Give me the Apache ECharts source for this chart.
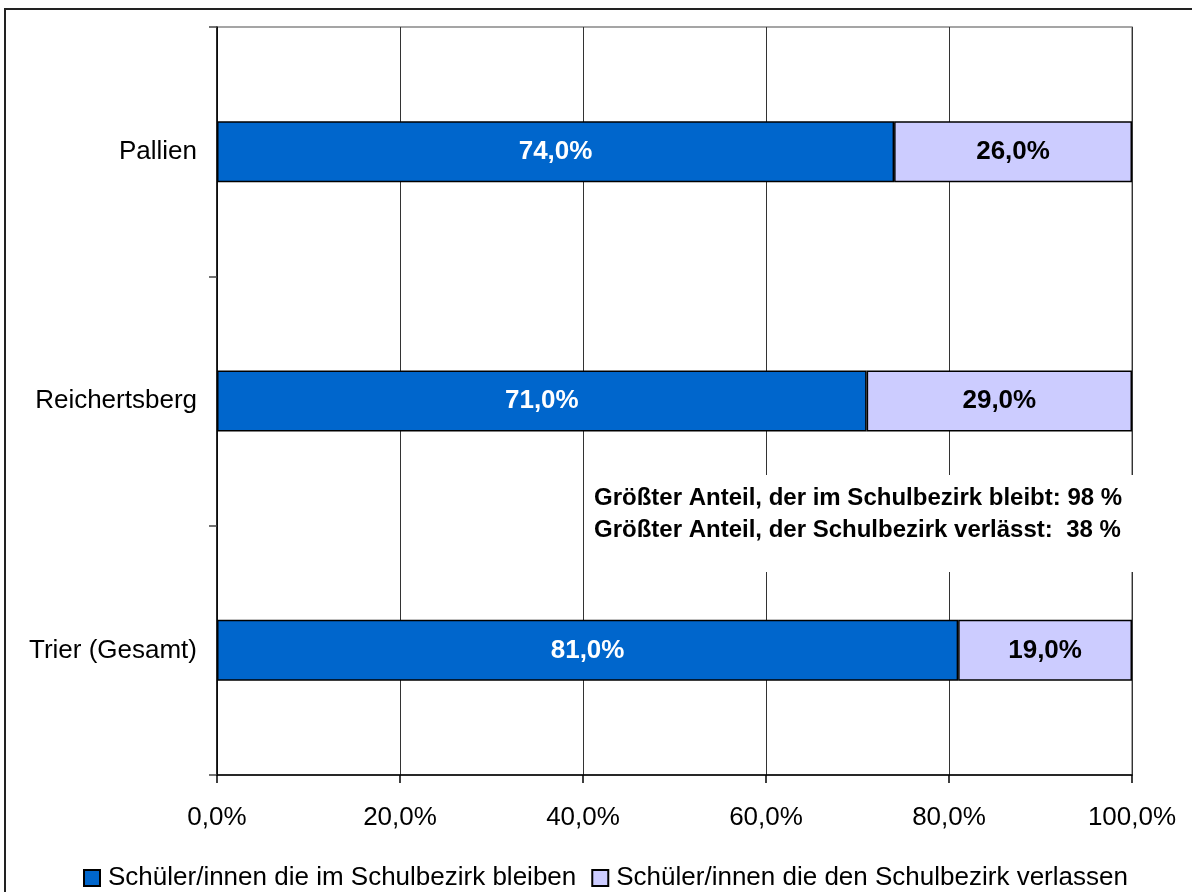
<!DOCTYPE html>
<html>
<head>
<meta charset="utf-8">
<script src="https://cdn.jsdelivr.net/npm/echarts@6/dist/echarts.min.js"></script>
<style>
  html, body { margin: 0; padding: 0; background: #fff; }
  #main { width: 1192px; height: 892px; }
</style>
</head>
<body>
<div id="main"></div>
<script>
// Kategorien von unten nach oben
var categories = ['Trier (Gesamt)', 'Reichertsberg', 'Pallien'];
var bleiben = [81.0, 71.0, 74.0];
var verlassen = [19.0, 29.0, 26.0];
var seriesNames = ['Schüler/innen die im Schulbezirk bleiben', 'Schüler/innen die den Schulbezirk verlassen'];
var xTicks = [0, 20, 40, 60, 80, 100];
var notes = ['Größter Anteil, der im Schulbezirk bleibt: 98 %', 'Größter Anteil, der Schulbezirk verlässt:  38 %'];

var fontName = '"Liberation Sans", Arial, sans-serif';

function pct(v) {
    return Number(v).toFixed(1).replace('.', ',') + '%';
}

var myChart = echarts.init(document.getElementById('main'));

var option = {
    animation: false,
    textStyle: { fontFamily: fontName },
    grid: {
        left: 217,
        right: 60,
        top: 27,
        bottom: 117,
        show: true,
        borderColor: '#888',
        borderWidth: 1.5,
        backgroundColor: 'transparent'
    },
    //图例
    legend: {
        data: seriesNames,
        left: 78,
        top: 860,
        itemWidth: 16,
        itemHeight: 16,
        itemGap: 15,
        textStyle: { fontSize: 26, color: '#000', fontFamily: fontName, padding: [0, 0, 0, 3] },
        icon: 'rect'
    },
    xAxis: {
        type: 'value',
        min: xTicks[0],
        max: xTicks[xTicks.length - 1],
        interval: 20,
        axisLine: { show: true, lineStyle: { color: '#000', width: 1.5 } },
        axisTick: { show: true, length: 8, lineStyle: { color: '#000', width: 1.5 } },
        axisLabel: {
            fontSize: 26, color: '#000', margin: 30,
            formatter: function (v) { return pct(v); }
        },
        splitLine: { show: true, lineStyle: { color: '#333', width: 1 } }
    },
    yAxis: {
        type: 'category',
        data: categories,
        axisLine: { show: true, lineStyle: { color: '#000', width: 1.5 } },
        axisTick: { show: true, length: 8, lineStyle: { color: '#444', width: 1.5 } },
        axisLabel: { fontSize: 26, color: '#000', margin: 20 },
        splitLine: { show: false }
    },
    series: [
        {
            name: seriesNames[0],
            type: 'bar',
            stack: 'total',
            barWidth: 61,
            data: bleiben,
            itemStyle: { color: '#0066CC', borderColor: '#000', borderWidth: 1.5 },
            label: {
                show: true, position: 'inside', color: '#fff',
                fontSize: 26, fontWeight: 'bold',
                formatter: function (p) { return pct(p.value); }
            }
        },
        {
            name: seriesNames[1],
            type: 'bar',
            stack: 'total',
            barWidth: 61,
            data: verlassen,
            itemStyle: { color: '#CCCCFF', borderColor: '#000', borderWidth: 1.5 },
            label: {
                show: true, position: 'inside', color: '#000',
                fontSize: 26, fontWeight: 'bold',
                formatter: function (p) { return pct(p.value); }
            }
        }
    ],
    graphic: [
        {
            type: 'rect', z: 100,
            shape: { x: 5, y: 9, width: 1200, height: 900 },
            style: { fill: 'none', stroke: '#222', lineWidth: 2 }
        },
        {
            type: 'rect', z: 100,
            shape: { x: 585, y: 475, width: 550, height: 97 },
            style: { fill: '#fff' }
        },
        {
            type: 'text', z: 101, x: 594, y: 498,
            style: { text: notes[0], font: 'bold 24px ' + fontName, fill: '#000', verticalAlign: 'middle' }
        },
        {
            type: 'text', z: 101, x: 594, y: 530,
            style: { text: notes[1], font: 'bold 24px ' + fontName, fill: '#000', verticalAlign: 'middle' }
        }
    ]
};

myChart.setOption(option);
</script>
</body>
</html>
